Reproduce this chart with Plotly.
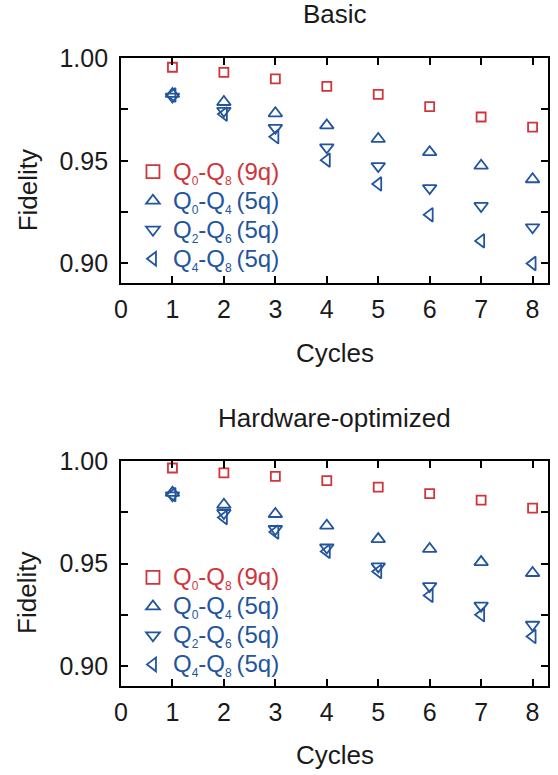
import plotly.graph_objects as go
from plotly.subplots import make_subplots

cycles = [1, 2, 3, 4, 5, 6, 7, 8]

# Basic compilation
basic_q0_q8 = [0.9955, 0.9930, 0.9898, 0.9862, 0.9823, 0.9763, 0.9713, 0.9664]
basic_q0_q4 = [0.9825, 0.9786, 0.9731, 0.9672, 0.9606, 0.9542, 0.9476, 0.9410]
basic_q2_q6 = [0.9812, 0.9743, 0.9660, 0.9565, 0.9474, 0.9367, 0.9280, 0.9176]
basic_q4_q8 = [0.9820, 0.9727, 0.9617, 0.9503, 0.9387, 0.9237, 0.9110, 0.9000]

# Hardware-optimized compilation
hw_q0_q8 = [0.9966, 0.9942, 0.9925, 0.9904, 0.9873, 0.9841, 0.9810, 0.9771]
hw_q0_q4 = [0.9845, 0.9787, 0.9742, 0.9685, 0.9620, 0.9572, 0.9508, 0.9455]
hw_q2_q6 = [0.9833, 0.9747, 0.9669, 0.9579, 0.9487, 0.9391, 0.9296, 0.9203]
hw_q4_q8 = [0.9836, 0.9725, 0.9654, 0.9560, 0.9462, 0.9346, 0.9252, 0.9146]

panel_titles = ["Basic", "Hardware-optimized"]
# (first qubit, last qubit, qubit count) for each series
series_labels = [("0", "8", "9q"), ("0", "4", "5q"), ("2", "6", "5q"), ("4", "8", "5q")]
y_tickvals = [0.90, 0.925, 0.95, 0.975, 1.00]
y_ticktext = ["0.90", "", "0.95", "", "1.00"]

RED = "#d0353c"
BLUE = "#22559e"
colors = [RED, BLUE, BLUE, BLUE]
symbols = ["square-open", "triangle-up-open", "triangle-down-open", "triangle-left-open"]
data_sizes = [9, 12, 12, 12]
legend_sizes = [13, 12, 12, 12]

FONT = "Liberation Sans, Arial, Helvetica, sans-serif"


def legend_label(a, b, n, color):
    sub = '<sub><span style="font-size:12px">{}</span></sub>'
    return (f'<span style="color:{color};font-size:24px">Q{sub.format(a)}-Q{sub.format(b)}'
            f'\u2009({n})</span>')


fig = make_subplots(rows=2, cols=1, vertical_spacing=0.2834)

panels = [
    [basic_q0_q8, basic_q0_q4, basic_q2_q6, basic_q4_q8],
    [hw_q0_q8, hw_q0_q4, hw_q2_q6, hw_q4_q8],
]

for p, series in enumerate(panels):
    row = p + 1
    legend_id = "legend" if p == 0 else "legend2"
    for i, ys in enumerate(series):
        fig.add_trace(go.Scatter(
            x=cycles, y=ys, mode="markers", showlegend=False,
            marker=dict(symbol=symbols[i], size=data_sizes[i], color=colors[i],
                        line=dict(width=1.8, color=colors[i])),
        ), row=row, col=1)
    # legend entries (larger symbols than the data markers)
    for i in range(4):
        fig.add_trace(go.Scatter(
            x=[None], y=[None], mode="markers", legend=legend_id,
            name=legend_label(*series_labels[i], colors[i]),
            marker=dict(symbol=symbols[i], size=legend_sizes[i], color=colors[i],
                        line=dict(width=1.8, color=colors[i])),
        ), row=row, col=1)

axis_common = dict(
    showline=True, linecolor="black", linewidth=1.8, mirror="ticks",
    ticks="inside", ticklen=7, tickwidth=1.6, tickcolor="black",
    showgrid=False, zeroline=False,
    tickfont=dict(family=FONT, size=25, color="#1a1a1a"),
)
for r in (1, 2):
    fig.update_xaxes(range=[0, 8.3], tickvals=list(range(0, 9)), ticklabelstandoff=3,
                     row=r, col=1, **axis_common)
    fig.update_yaxes(range=[0.8905, 1.0], tickvals=y_tickvals, ticktext=y_ticktext,
                     ticklabelstandoff=6, row=r, col=1, **axis_common)

legend_common = dict(
    font=dict(family=FONT, size=20), bgcolor="rgba(0,0,0,0)",
    borderwidth=0, xanchor="left", yanchor="top", itemclick=False,
)

ann_font = dict(family=FONT, size=26, color="#1a1a1a")
annotations = []
for p, (ty, cy, fy) in enumerate([(1.070, 0.530, 0.79), (0.4268, -0.110, 0.149)]):
    annotations.append(dict(text=panel_titles[p], x=0.501, y=ty, xref="paper", yref="paper",
                            showarrow=False, font=ann_font, xanchor="center", yanchor="middle"))
    annotations.append(dict(text="Cycles", x=0.501, y=cy, xref="paper", yref="paper",
                            showarrow=False, font=ann_font, xanchor="center", yanchor="middle"))
    annotations.append(dict(text="Fidelity", x=-0.219, y=fy, xref="paper", yref="paper",
                            showarrow=False, font=ann_font, textangle=-90,
                            xanchor="center", yanchor="middle"))

fig.update_layout(
    width=558, height=775,
    margin=dict(l=121, r=8, t=58, b=89),
    plot_bgcolor="white", paper_bgcolor="white",
    legend=dict(x=0.028, y=0.850, **legend_common),
    legend2=dict(x=0.028, y=0.204, **legend_common),
    annotations=annotations,
)

fig.write_html("out.html")
